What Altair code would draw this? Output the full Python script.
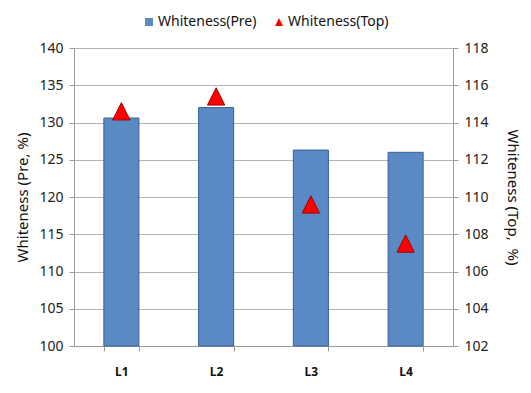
import altair as alt
import pandas as pd

categories = ["L1", "L2", "L3", "L4"]
pre_values = [130.6, 132.0, 126.3, 126.0]
top_values = [114.6, 115.4, 109.6, 107.5]
series_names = ["Whiteness(Pre)", "Whiteness(Top)"]
left_ticks = [100, 105, 110, 115, 120, 125, 130, 135, 140]
right_ticks = [102, 104, 106, 108, 110, 112, 114, 116, 118]

pre_df = pd.DataFrame({"cat": categories, "value": pre_values, "series": series_names[0]})
top_df = pd.DataFrame({"cat": categories, "value": top_values, "series": series_names[1]})

FONT = "Noto Sans"
TRI = "M-1,1L1,1L0,-1Z"
AXIS_COLOR = "#9a9a9a"
GRID_COLOR = "#b4b4b4"

legend = alt.Legend(
    title=None, orient="none", legendX=68, legendY=-33, direction="horizontal",
    labelFontSize=14, labelFont=FONT, labelColor="#111111", symbolSize=64,
    symbolStrokeWidth=0, columnPadding=15, labelOffset=2, padding=0,
)

x_enc = alt.X(
    "cat:N", sort=categories, title=None,
    scale=alt.Scale(paddingInner=0.63, paddingOuter=0.315),
    axis=alt.Axis(labelFontWeight="bold", labelFontSize=12, labelAngle=0,
                  tickBand="extent", tickSize=5, labelPadding=15,
                  domainColor=AXIS_COLOR, tickColor=AXIS_COLOR, labelColor="#111111"),
)

color_enc = alt.Color("series:N", scale=alt.Scale(domain=series_names, range=["#5A8AC6", "#FF0000"]),
                      legend=legend)

bars = alt.Chart(pre_df).mark_bar(stroke="#3a5f92", strokeWidth=1).encode(
    x=x_enc,
    y=alt.Y("value:Q", scale=alt.Scale(domain=[100, 140], zero=False, nice=False),
            axis=alt.Axis(values=left_ticks, title="Whiteness (Pre, %)", grid=True,
                          gridColor=GRID_COLOR, domainColor=AXIS_COLOR, tickColor=AXIS_COLOR,
                          tickSize=5, labelPadding=6, labelFontSize=14, labelColor="#222222",
                          titleFontSize=15, titleFontWeight="normal", titlePadding=8,
                          titleColor="#111111")),
    y2=alt.datum(100),
    color=color_enc,
)

points = alt.Chart(top_df).mark_point(filled=True, size=300, opacity=1, stroke="#a00000", strokeWidth=1).encode(
    x=x_enc,
    y=alt.Y("value:Q", scale=alt.Scale(domain=[102, 118], zero=False, nice=False),
            axis=alt.Axis(values=right_ticks, orient="right", title="Whiteness (Top,\u00a0 %)", grid=False,
                          domainColor=AXIS_COLOR, tickColor=AXIS_COLOR,
                          tickSize=5, labelPadding=6, labelFontSize=14, labelColor="#222222",
                          titleFontSize=15, titleFontWeight="normal", titlePadding=16,
                          titleColor="#111111")),
    color=color_enc,
    shape=alt.Shape("series:N", scale=alt.Scale(domain=series_names, range=["square", TRI]), legend=legend),
)

chart = alt.layer(bars, points).resolve_scale(y="independent").properties(
    width=379, height=298,
    autosize=alt.AutoSizeParams(type="none"),
    padding={"left": 74, "top": 48, "right": 78, "bottom": 47},
    background="white",
).configure_view(stroke=None).configure(font=FONT)

chart.save("out.html", embed_options={"renderer": "svg", "actions": False})
